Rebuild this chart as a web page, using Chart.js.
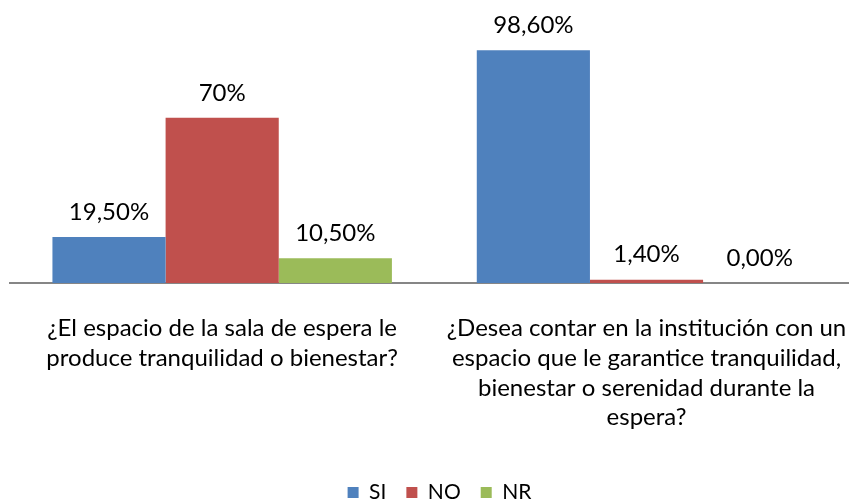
<!DOCTYPE html>
<html>
<head>
<meta charset="utf-8">
<script src="https://cdn.jsdelivr.net/npm/chart.js@4.4.1/dist/chart.umd.min.js"></script>
<style>
    html, body { margin: 0; padding: 0; background: #fff; overflow: hidden; }
    #wrap { width: 849px; height: 504px; overflow: hidden; position: relative; }
    #myChart { position: absolute; left: 0; top: 0; }
</style>
</head>
<body>
<div id="wrap">
    <canvas id="myChart" width="880" height="504"></canvas>
</div>
<script>
    // categories (one array of lines per question)
    const categories = [
        ['¿El espacio de la sala de espera le', 'produce tranquilidad o bienestar?'],
        ['¿Desea contar en la institución con un', 'espacio que le garantice tranquilidad,', 'bienestar o serenidad durante la', 'espera?']
    ];
    const seriesNames = ['SI', 'NO', 'NR'];
    const siValues = [19.5, 98.6];
    const noValues = [70, 1.4];
    const nrValues = [10.5, 0];
    const siLabels = ['19,50%', '98,60%'];
    const noLabels = ['70%', '1,40%'];
    const nrLabels = ['10,50%', '0,00%'];

    const font = 'Lato';
    const fontSize = 24;

    // draws the value text above each bar
    const valueLabels = {
        id: 'valueLabels',
        afterDatasetsDraw(chart) {
            const ctx = chart.ctx;
            ctx.save();
            ctx.font = fontSize + 'px ' + font;
            ctx.fillStyle = '#000';
            ctx.textAlign = 'center';
            ctx.textBaseline = 'middle';
            chart.data.datasets.forEach(function(ds, i) {
                chart.getDatasetMeta(i).data.forEach(function(bar, j) {
                    ctx.fillText(ds.valueLabels[j], bar.x, bar.y - 25);
                });
            });
            ctx.restore();
        }
    };

    const ctx = document.getElementById('myChart').getContext('2d');
    const myChart = new Chart(ctx, {
        type: 'bar',
        data: {
            labels: categories,
            datasets: [{
                label: seriesNames[0],
                data: siValues,
                valueLabels: siLabels,
                backgroundColor: '#4F81BD'
            }, {
                label: seriesNames[1],
                data: noValues,
                valueLabels: noLabels,
                backgroundColor: '#C0504D'
            }, {
                label: seriesNames[2],
                data: nrValues,
                valueLabels: nrLabels,
                backgroundColor: '#9BBB59'
            }]
        },
        options: {
            responsive: false,
            animation: false,
            categoryPercentage: 0.8,
            barPercentage: 1.0,
            layout: {
                padding: { left: 10, right: 11, top: 47, bottom: -9 }
            },
            scales: {
                x: {
                    grid: { display: false, drawTicks: false },
                    border: { display: true, color: '#868686', width: 2 },
                    ticks: {
                        color: '#000',
                        font: { family: font, size: fontSize, lineHeight: 1.23 },
                        padding: 31,
                        maxRotation: 0,
                        autoSkip: false
                    },
                    afterFit: function(scale) {
                        scale.height = 179;
                    }
                },
                y: {
                    display: false,
                    min: 0,
                    max: 100
                }
            },
            plugins: {
                legend: {
                    position: 'bottom',
                    labels: {
                        boxWidth: 11,
                        boxHeight: 11,
                        padding: 20,
                        color: '#000',
                        font: { family: font, size: 21 }
                    }
                },
                tooltip: { enabled: false }
            }
        },
        plugins: [valueLabels]
    });
</script>
</body>
</html>
